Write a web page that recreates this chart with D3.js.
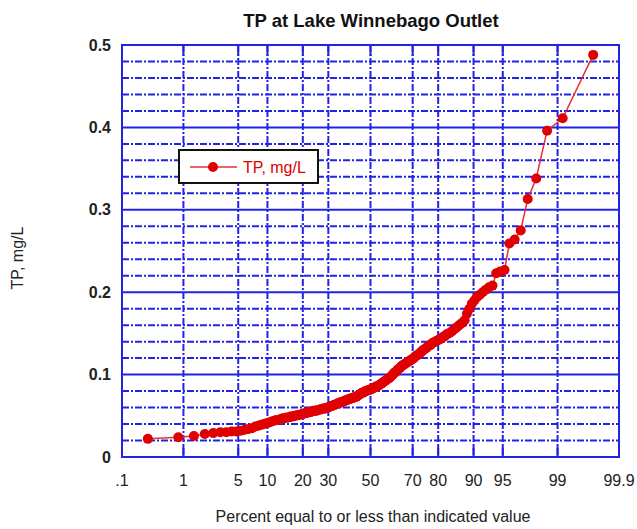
<!DOCTYPE html>
<html>
<head>
<meta charset="utf-8">
<script src="https://cdn.jsdelivr.net/npm/d3@7"></script>
<style>
  html, body { margin: 0; padding: 0; background: #fff; }
  svg { display: block; font-family: "Liberation Sans", Arial, sans-serif; }
</style>
</head>
<body>
<svg id="chart" width="637" height="529"></svg>
<script>
// Probability-axis ticks (percent non-exceedance)
const percentTicks  = [0.1, 1, 5, 10, 20, 30, 50, 70, 80, 90, 95, 99, 99.9];
const percentLabels = [".1", "1", "5", "10", "20", "30", "50", "70", "80", "90", "95", "99", "99.9"];

// Concentration axis
const yMajorTicks = [0, 0.1, 0.2, 0.3, 0.4, 0.5];
const yMinorTicks = [0.02, 0.04, 0.06, 0.08, 0.12, 0.14, 0.16, 0.18, 0.22, 0.24, 0.26, 0.28,
                     0.32, 0.34, 0.36, 0.38, 0.42, 0.44, 0.46, 0.48];

// Sorted TP samples, mg/L
const tpValues = [
  0.022, 0.024, 0.0255, 0.028, 0.029, 0.030, 0.030, 0.031, 0.031, 0.032,
  0.033, 0.034, 0.035, 0.037, 0.038, 0.039, 0.040, 0.041, 0.042, 0.043,
  0.044, 0.045, 0.045, 0.046, 0.047, 0.047, 0.048, 0.048, 0.049, 0.049,
  0.050, 0.050, 0.051, 0.051, 0.052, 0.052, 0.053, 0.053, 0.054, 0.054,
  0.055, 0.055, 0.056, 0.056, 0.056, 0.057, 0.057, 0.058, 0.058, 0.059,
  0.059, 0.059, 0.060, 0.060, 0.061, 0.062, 0.062, 0.063, 0.063, 0.064,
  0.065, 0.065, 0.066, 0.066, 0.067, 0.067, 0.068, 0.069, 0.069, 0.070,
  0.070, 0.071, 0.071, 0.072, 0.072, 0.073, 0.073, 0.074, 0.075, 0.076,
  0.077, 0.078, 0.078, 0.079, 0.080, 0.080, 0.081, 0.081, 0.082, 0.082,
  0.083, 0.084, 0.084, 0.085, 0.086, 0.086, 0.087, 0.088, 0.089, 0.090,
  0.091, 0.092, 0.093, 0.094, 0.095, 0.096, 0.097, 0.099, 0.100, 0.102,
  0.103, 0.104, 0.106, 0.107, 0.108, 0.110, 0.111, 0.112, 0.113, 0.114,
  0.115, 0.116, 0.117, 0.118, 0.119, 0.120, 0.122, 0.123, 0.124, 0.125,
  0.127, 0.128, 0.130, 0.131, 0.132, 0.134, 0.135, 0.136, 0.138, 0.139,
  0.140, 0.141, 0.142, 0.143, 0.144, 0.146, 0.147, 0.149, 0.150, 0.151,
  0.153, 0.155, 0.157, 0.159, 0.161, 0.163, 0.166, 0.174, 0.180, 0.186,
  0.190, 0.194, 0.197, 0.200, 0.203, 0.206, 0.208, 0.223, 0.225, 0.227,
  0.259, 0.264, 0.275, 0.313, 0.338, 0.396, 0.411, 0.488
];

// Inverse standard normal CDF (Acklam's rational approximation)
function probit(p) {
  const a = [-3.969683028665376e+01, 2.209460984245205e+02, -2.759285104469687e+02,
              1.383577518672690e+02, -3.066479806614716e+01, 2.506628277459239e+00];
  const b = [-5.447609879822406e+01, 1.615858368580409e+02, -1.556989798598866e+02,
              6.680131188771972e+01, -1.328068155288572e+01];
  const c = [-7.784894002430293e-03, -3.223964580411365e-01, -2.400758277161838e+00,
             -2.549732539343734e+00, 4.374664141464968e+00, 2.938163982698783e+00];
  const d = [7.784695709041462e-03, 3.224671290700398e-01, 2.445134137142996e+00,
             3.754408661907416e+00];
  const pl = 0.02425, ph = 1 - pl;
  let q, r;
  if (p < pl) {
    q = Math.sqrt(-2 * Math.log(p));
    return (((((c[0]*q+c[1])*q+c[2])*q+c[3])*q+c[4])*q+c[5]) /
           ((((d[0]*q+d[1])*q+d[2])*q+d[3])*q+1);
  }
  if (p <= ph) {
    q = p - 0.5; r = q * q;
    return (((((a[0]*r+a[1])*r+a[2])*r+a[3])*r+a[4])*r+a[5])*q /
           (((((b[0]*r+b[1])*r+b[2])*r+b[3])*r+b[4])*r+1);
  }
  q = Math.sqrt(-2 * Math.log(1 - p));
  return -(((((c[0]*q+c[1])*q+c[2])*q+c[3])*q+c[4])*q+c[5]) /
          ((((d[0]*q+d[1])*q+d[2])*q+d[3])*q+1);
}

const plot = { left: 122, right: 619, top: 45, bottom: 457 };
const gridBlue = "#2323e6";
const red = "#e00000";

// Normal-score scale for the probability axis
const zScale = d3.scaleLinear()
  .domain([probit(0.001), probit(0.999)])
  .range([plot.left, plot.right]);
const xPct = pct => zScale(probit(pct / 100));

const y = d3.scaleLinear().domain([0, 0.5]).range([plot.bottom, plot.top]);

// Hazen plotting positions for the ranked samples
const n = tpValues.length;
const points = tpValues.map((v, i) => ({ pct: (i + 0.5) / n * 100, v }));

const svg = d3.select("#chart");
svg.append("rect").attr("width", 637).attr("height", 529).attr("fill", "#fff");

const grid = svg.append("g");

// Minor horizontal grid (dash-dot)
grid.selectAll(".ymin").data(yMinorTicks).join("line")
  .attr("x1", plot.left).attr("x2", plot.right)
  .attr("y1", d => y(d)).attr("y2", d => y(d))
  .attr("stroke", gridBlue).attr("stroke-width", 2)
  .attr("stroke-dasharray", "7,2,2,2");

// Vertical probability grid (dash-dot)
const innerTicks = percentTicks.slice(1, -1);
grid.selectAll(".xgrid").data(innerTicks).join("line")
  .attr("x1", d => xPct(d)).attr("x2", d => xPct(d))
  .attr("y1", plot.top).attr("y2", plot.bottom)
  .attr("stroke", gridBlue).attr("stroke-width", 2)
  .attr("stroke-dasharray", "7,2,2,2");

// Solid tick marks along the top and bottom edges
grid.selectAll(".xtickb").data(innerTicks).join("line")
  .attr("x1", d => xPct(d)).attr("x2", d => xPct(d))
  .attr("y1", plot.bottom).attr("y2", plot.bottom - 11)
  .attr("stroke", gridBlue).attr("stroke-width", 2);
grid.selectAll(".xtickt").data(innerTicks).join("line")
  .attr("x1", d => xPct(d)).attr("x2", d => xPct(d))
  .attr("y1", plot.top).attr("y2", plot.top + 11)
  .attr("stroke", gridBlue).attr("stroke-width", 2);

// Major horizontal grid (solid)
grid.selectAll(".ymaj").data(yMajorTicks.slice(1, -1)).join("line")
  .attr("x1", plot.left).attr("x2", plot.right)
  .attr("y1", d => y(d)).attr("y2", d => y(d))
  .attr("stroke", gridBlue).attr("stroke-width", 2);

// Frame
grid.append("rect")
  .attr("x", plot.left).attr("y", plot.top)
  .attr("width", plot.right - plot.left).attr("height", plot.bottom - plot.top)
  .attr("fill", "none").attr("stroke", gridBlue).attr("stroke-width", 2);

// Y axis labels
const yAxis = svg.append("g")
  .attr("transform", `translate(${plot.left},0)`)
  .call(d3.axisLeft(y).tickValues(yMajorTicks)
    .tickFormat(d => d === 0 ? "0" : d3.format(".1f")(d))
    .tickSize(0).tickPadding(11));
yAxis.select(".domain").remove();
yAxis.selectAll("text")
  .attr("font-size", 16).attr("fill", "#222").attr("font-weight", 600)
  .attr("font-family", "'Liberation Sans', Arial, sans-serif");

// X axis labels
svg.append("g").selectAll("text").data(percentTicks).join("text")
  .attr("x", d => xPct(d)).attr("y", 486)
  .attr("text-anchor", "middle")
  .attr("font-size", 16).attr("fill", "#222")
  .text((d, i) => percentLabels[i]);

// Data series
const line = d3.line().x(d => xPct(d.pct)).y(d => y(d.v));
svg.append("path").datum(points)
  .attr("d", line).attr("fill", "none")
  .attr("stroke", "#e83030").attr("stroke-width", 1.5);
svg.append("g").selectAll("circle").data(points).join("circle")
  .attr("cx", d => xPct(d.pct)).attr("cy", d => y(d.v))
  .attr("r", 5).attr("fill", red);

// Legend
const legend = svg.append("g");
legend.append("rect")
  .attr("x", 179).attr("y", 150).attr("width", 139).attr("height", 33)
  .attr("fill", "#fff").attr("stroke", "#111").attr("stroke-width", 2);
legend.append("line")
  .attr("x1", 190).attr("x2", 237).attr("y1", 167).attr("y2", 167)
  .attr("stroke", "#e83030").attr("stroke-width", 1.5);
legend.append("circle").attr("cx", 213).attr("cy", 167).attr("r", 5).attr("fill", red);
legend.append("text")
  .attr("x", 243).attr("y", 173)
  .attr("font-size", 16).attr("fill", red)
  .text("TP, mg/L");

// Titles
svg.append("text")
  .attr("x", 371).attr("y", 27).attr("text-anchor", "middle")
  .attr("font-size", 18.5).attr("font-weight", "bold").attr("fill", "#111")
  .text("TP at Lake Winnebago Outlet");

svg.append("text")
  .attr("x", 373).attr("y", 522).attr("text-anchor", "middle")
  .attr("font-size", 16).attr("fill", "#222")
  .text("Percent equal to or less than indicated value");

svg.append("text")
  .attr("transform", "translate(23,258) rotate(-90)")
  .attr("text-anchor", "middle")
  .attr("font-size", 16).attr("fill", "#222")
  .text("TP, mg/L");
</script>
</body>
</html>
